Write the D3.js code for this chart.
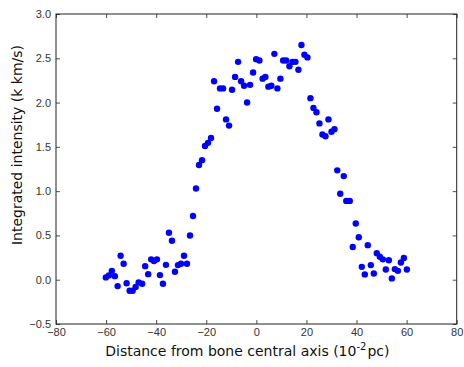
<!DOCTYPE html>
<html>
  <head>
    <meta charset="UTF-8">
    <script src="https://d3js.org/d3.v7.min.js"></script>
    <style>
      body { margin: 0; background: #fff; }
      svg { font-family: "DejaVu Sans", sans-serif; }
    </style>
  </head>
  <body>
    <div id="chart"></div>
    <script>
      // distance from bone central axis (10^-2 pc)
      const distance = [
        -60.1, -58.9, -57.7, -56.5, -55.4, -54.2, -53.0, -51.8, -50.6, -49.4,
        -48.2, -47.0, -45.6, -44.4, -43.2, -42.0, -40.9, -39.7, -38.5, -37.3,
        -36.1, -34.9, -33.7, -32.5, -31.3, -30.1, -28.9, -27.7, -26.5, -25.3,
        -24.1, -22.9, -21.7, -20.5, -19.3, -18.1, -16.9, -15.7, -14.5, -13.3,
        -12.1, -10.9, -9.7, -8.5, -7.3, -6.1, -4.9, -3.7, -2.5, -1.3,
        -0.1, 1.2, 2.5, 3.6, 4.8, 6.0, 7.2, 8.4, 9.6, 10.7,
        11.9, 13.2, 14.4, 15.6, 16.8, 18.0, 19.2, 20.4, 21.6, 22.8,
        24.0, 25.2, 26.4, 27.6, 28.8, 30.0, 31.2, 32.3, 33.5, 34.9,
        35.9, 37.3, 38.5, 39.7, 40.9, 42.1, 43.3, 44.5, 45.7, 46.9,
        48.1, 49.3, 50.5, 51.7, 52.9, 54.1, 55.3, 56.5, 57.7, 58.9,
        60.1
      ];
      // integrated intensity (k km/s)
      const intensity = [
        0.026, 0.048, 0.10, 0.04, -0.072, 0.27, 0.18, -0.04, -0.125, -0.125,
        -0.083, -0.03, -0.046, 0.153, 0.063, 0.23, 0.21, 0.23, 0.052, -0.046,
        0.168, 0.53, 0.44, 0.09, 0.165, 0.18, 0.27, 0.18, 0.50, 0.72,
        1.03, 1.295, 1.35, 1.51, 1.545, 1.60, 2.24, 1.93, 2.16, 2.16,
        1.81, 1.74, 2.145, 2.29, 2.46, 2.24, 2.19, 2.00, 2.20, 2.34,
        2.49, 2.475, 2.27, 2.29, 2.18, 2.19, 2.55, 2.16, 2.27, 2.475,
        2.475, 2.41, 2.46, 2.46, 2.37, 2.65, 2.54, 2.51, 2.05, 1.94,
        1.89, 1.765, 1.64, 1.62, 1.81, 1.67, 1.70, 1.235, 0.97, 1.17,
        0.89, 0.89, 0.37, 0.635, 0.48, 0.145, 0.06, 0.39, 0.165, 0.07,
        0.30, 0.26, 0.23, 0.115, 0.22, 0.015, 0.12, 0.10, 0.195, 0.245,
        0.115
      ];
      const xTicks = [-80, -60, -40, -20, 0, 20, 40, 60, 80];
      const yTicks = [-0.5, 0.0, 0.5, 1.0, 1.5, 2.0, 2.5, 3.0];

      const points = distance.map((d, i) => ({ x: d, y: intensity[i] }));

      const width = 464;
      const height = 367;
      const margin = { top: 14, right: 7.3, bottom: 43, left: 56 };
      const innerWidth = width - margin.left - margin.right;
      const innerHeight = height - margin.top - margin.bottom;

      const svg = d3.select("#chart")
        .append("svg")
        .attr("width", width)
        .attr("height", height);

      const g = svg.append("g")
        .attr("transform", `translate(${margin.left},${margin.top})`);

      const x = d3.scaleLinear().domain([-80, 80]).range([0, innerWidth]);
      const y = d3.scaleLinear().domain([-0.5, 3.0]).range([innerHeight, 0]);

      const tickLen = 4;
      const fmtY = d => d3.format(".1f")(d).replace("-", "\u2212");
      const fmtX = d => String(d).replace("-", "\u2212");

      // axes, ticks pointing inward like matplotlib
      function styleAxis(sel) {
        sel.select(".domain").remove();
        sel.selectAll(".tick line").attr("stroke", "#222").attr("stroke-width", 0.8);
        sel.selectAll(".tick text")
          .attr("fill", "#333")
          .style("font-size", "11px");
      }
      // top / right axes only carry tick marks
      function ticksOnly(sel) {
        styleAxis(sel);
        sel.selectAll(".tick text").remove();
      }

      g.append("g")
        .attr("transform", `translate(0,${innerHeight})`)
        .call(d3.axisBottom(x).tickValues(xTicks).tickFormat(fmtX)
          .tickSizeInner(-tickLen).tickSizeOuter(0).tickPadding(4.5))
        .call(styleAxis);

      g.append("g")
        .call(d3.axisTop(x).tickValues(xTicks)
          .tickSizeInner(-tickLen).tickSizeOuter(0))
        .call(ticksOnly);

      g.append("g")
        .call(d3.axisLeft(y).tickValues(yTicks).tickFormat(fmtY)
          .tickSizeInner(-tickLen).tickSizeOuter(0).tickPadding(5))
        .call(styleAxis);

      g.append("g")
        .attr("transform", `translate(${innerWidth},0)`)
        .call(d3.axisRight(y).tickValues(yTicks)
          .tickSizeInner(-tickLen).tickSizeOuter(0))
        .call(ticksOnly);

      // frame
      g.append("rect")
        .attr("width", innerWidth)
        .attr("height", innerHeight)
        .attr("fill", "none")
        .attr("stroke", "#222")
        .attr("stroke-width", 1);

      // points
      g.selectAll("circle.pt")
        .data(points)
        .enter()
        .append("circle")
        .attr("class", "pt")
        .attr("cx", d => x(d.x))
        .attr("cy", d => y(d.y))
        .attr("r", 3.2)
        .attr("fill", "#0000ff");

      // axis titles
      const xTitle = svg.append("text")
        .attr("x", margin.left + innerWidth / 2 - 9)
        .attr("y", 356)
        .attr("text-anchor", "middle")
        .attr("fill", "#111")
        .style("font-size", "14px");
      xTitle.append("tspan").text("Distance from bone central axis (10");
      xTitle.append("tspan").attr("dy", -6).style("font-size", "10px").text("-2");
      xTitle.append("tspan").attr("dy", 6).attr("dx", 1).text("pc)");

      svg.append("text")
        .attr("transform", "translate(22,145) rotate(-90)")
        .attr("text-anchor", "middle")
        .attr("fill", "#111")
        .style("font-size", "14px")
        .text("Integrated intensity (k km/s)");
    </script>
  </body>
</html>
